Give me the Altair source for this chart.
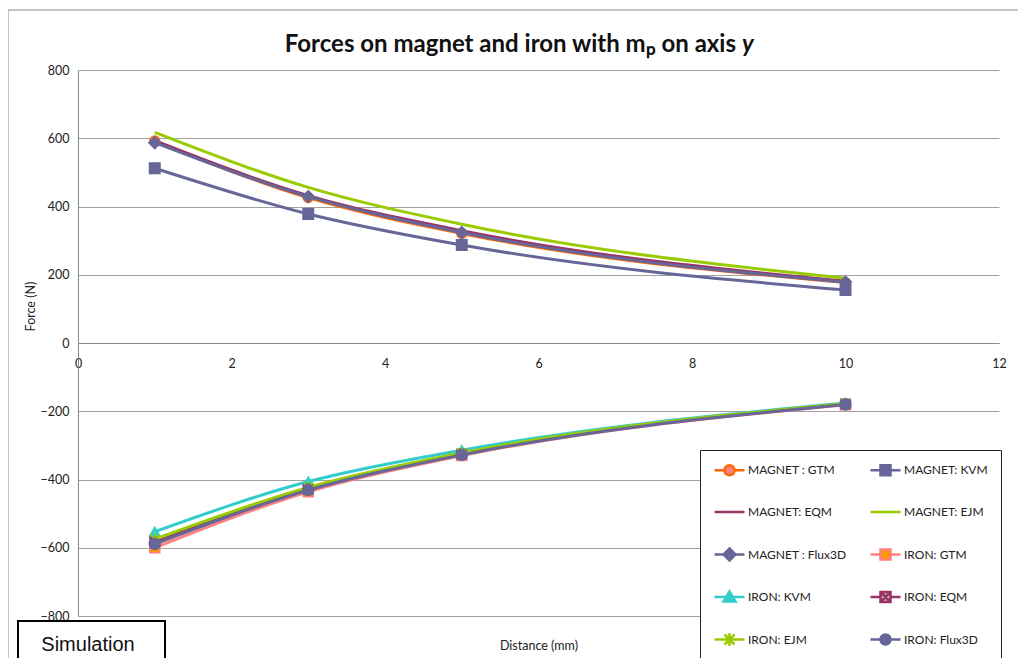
import altair as alt
import pandas as pd

# ---------------- data ----------------
distance = [1, 3, 5, 10]
series_names = ["MAGNET : GTM", "MAGNET: KVM", "MAGNET: EQM", "MAGNET: EJM", "MAGNET : Flux3D",
                "IRON: GTM", "IRON: KVM", "IRON: EQM", "IRON: EJM", "IRON: Flux3D"]
magnet_gtm = [592, 426, 321, 177]
magnet_kvm = [512, 378, 287, 155]
magnet_eqm = [593, 432, 329, 181]
magnet_ejm = [617, 456, 348, 190]
magnet_flux3d = [587, 429, 324, 178]
iron_gtm = [-600, -436, -330, -181]
iron_kvm = [-553, -406, -314, -176]
iron_eqm = [-583, -428, -325, -179]
iron_ejm = [-575, -423, -322, -178]
iron_flux3d = [-589, -431, -328, -180]
series_values = [magnet_gtm, magnet_kvm, magnet_eqm, magnet_ejm, magnet_flux3d,
                 iron_gtm, iron_kvm, iron_eqm, iron_ejm, iron_flux3d]
x_ticks = [0, 2, 4, 6, 8, 10, 12]
y_ticks = [-800, -600, -400, -200, 0, 200, 400, 600, 800]

# ---------------- styles ----------------
line_colors = ["#FF6600", "#666699", "#993366", "#99CC00", "#666699",
               "#FF8080", "#33CCCC", "#993366", "#99CC00", "#666699"]
fill_colors = ["#FF8080", "#666699", "#993366", "#99CC00", "#666699",
               "#FF9900", "#33CCCC", "#C0C0C0", "#99CC00", "#666699"]
marker_shapes = ["circle", "square", None, None, "diamond",
                 "square", "triangle-up",
                 "M-1,-1H1V1H-1ZM-1,-1L1,1M1,-1L-1,1",
                 "M-1,-1L1,1M1,-1L-1,1M0,-1.3V1.3",
                 "circle"]
marker_sizes = [95, 110, 0, 0, 140, 100, 110, 90, 90, 120]
legend_paths = [
    "M-3,0H-1M1,0H3M-1,0A1,1,0,1,0,1,0A1,1,0,1,0,-1,0Z",
    "M-3,0H-1M1,0H3M-1,-1H1V1H-1Z",
    "M-3,0H3",
    "M-3,0H3",
    "M-3,0H-1.2M1.2,0H3M0,-1.2L1.2,0L0,1.2L-1.2,0Z",
    "M-3,0H-1M1,0H3M-1,-1H1V1H-1Z",
    "M-3,0H-0.6M0.6,0H3M0,-1.1L1.2,0.9H-1.2Z",
    "M-3,0H-1M1,0H3M-1,-1H1V1H-1ZM-1,-1L1,1M1,-1L-1,1",
    "M-3,0H3M-1,-1L1,1M1,-1L-1,1M0,-1.3V1.3",
    "M-3,0H-1M1,0H3M-1,0A1,1,0,1,0,1,0A1,1,0,1,0,-1,0Z",
]

rows = []
for name, vals in zip(series_names, series_values):
    for d, v in zip(distance, vals):
        rows.append({"series": name, "distance": d, "force": v})
df = pd.DataFrame(rows)
one = pd.DataFrame({"k": [0]})

FONT = "Lato"
W, H = 921, 546

x_enc = alt.X("distance:Q",
              scale=alt.Scale(domain=[0, 12], nice=False, zero=False),
              axis=alt.Axis(values=x_ticks, offset=-273, grid=False, ticks=False,
                            domainColor="#8A8A8A", domainWidth=1,
                            labelFont=FONT, labelFontSize=12.5, labelColor="#222",
                            labelPadding=14, labelFlush=False,
                            title="Distance (mm)", titleFont=FONT, titleFontSize=12.5,
                            titleFontWeight="normal", titleColor="#222",
                            titleY=302, titleBaseline="middle"))
y_enc = alt.Y("force:Q",
              scale=alt.Scale(domain=[-800, 800], nice=False),
              axis=alt.Axis(values=y_ticks, ticks=False, grid=True,
                            gridColor="#A0A0A0", gridWidth=1,
                            domainColor="#8A8A8A", domainWidth=1,
                            labelFont=FONT, labelFontSize=12.5, labelColor="#222",
                            labelPadding=9, labelFlush=False,
                            title="Force (N)", titleFont=FONT, titleFontSize=12.5,
                            titleFontWeight="normal", titleColor="#222",
                            titleAngle=270, titleX=-48, titleY=236,
                            titleAlign="center", titleBaseline="middle"))

layers = []

# outer chart border
layers.append(alt.Chart(one).mark_rect(fill="transparent", stroke="#8A8A8A", strokeWidth=1).encode(
    x=alt.value(-70), x2=alt.value(960), y=alt.value(-60), y2=alt.value(640)))

for i, name in enumerate(series_names):
    base = alt.Chart(df).transform_filter(alt.datum.series == name)
    layers.append(base.mark_line(interpolate="monotone", strokeWidth=3).encode(
        x=x_enc, y=y_enc, stroke=alt.value(line_colors[i]), order="distance:Q"))
    if marker_shapes[i] is not None:
        layers.append(base.mark_point(filled=True, size=marker_sizes[i], strokeWidth=1.5, opacity=1).encode(
            x=x_enc, y=y_enc,
            shape=alt.value(marker_shapes[i]),
            fill=alt.value(fill_colors[i]),
            stroke=alt.value(line_colors[i])))

# legend layer (no visible marks of its own)
legend = alt.Legend(title=None, orient="none", legendX=622, legendY=380,
                    direction="horizontal", gridAlign="all",
                    columns=2, columnPadding=18, rowPadding=19.5,
                    padding=13, strokeColor="#222", fillColor="white",
                    symbolSize=100, symbolOffset=10, labelOffset=12,
                    symbolStrokeWidth=2.5,
                    labelFont=FONT, labelFontSize=12, labelColor="#222", labelLimit=300)
layers.append(alt.Chart(df).transform_filter("false").mark_point(filled=True, opacity=1).encode(
    x=x_enc, y=y_enc,
    fill=alt.Fill("series:N", scale=alt.Scale(domain=series_names, range=fill_colors), legend=legend),
    stroke=alt.Stroke("series:N", scale=alt.Scale(domain=series_names, range=line_colors), legend=legend),
    shape=alt.Shape("series:N", scale=alt.Scale(domain=series_names, range=legend_paths), legend=legend),
))

# title
layers.append(alt.Chart(one).mark_text(font=FONT, fontWeight="bold", fontSize=24, align="right",
                                       baseline="middle", color="#111").encode(
    x=alt.value(658), y=alt.value(-25), text=alt.value("Forces on magnet and iron with mₚ on axis")))
layers.append(alt.Chart(one).mark_text(font=FONT, fontWeight="bold", fontStyle="italic", fontSize=24,
                                       align="left", baseline="middle", color="#111").encode(
    x=alt.value(664), y=alt.value(-25), text=alt.value("y")))

# "Simulation" box
layers.append(alt.Chart(one).mark_rect(fill="white", stroke="#000", strokeWidth=2).encode(
    x=alt.value(-60), x2=alt.value(87), y=alt.value(551), y2=alt.value(620)))
layers.append(alt.Chart(one).mark_text(font="Liberation Sans", fontSize=20, align="center",
                                       baseline="middle", color="#111").encode(
    x=alt.value(10), y=alt.value(575), text=alt.value("Simulation")))

chart = alt.layer(*layers).properties(
    width=W, height=H,
    autosize=alt.AutoSizeParams(type="none"),
    padding={"left": 70, "top": 62, "right": 19, "bottom": 42},
).configure_view(stroke=None)

chart.save("out.html", embed_options={"renderer": "svg", "actions": False})
